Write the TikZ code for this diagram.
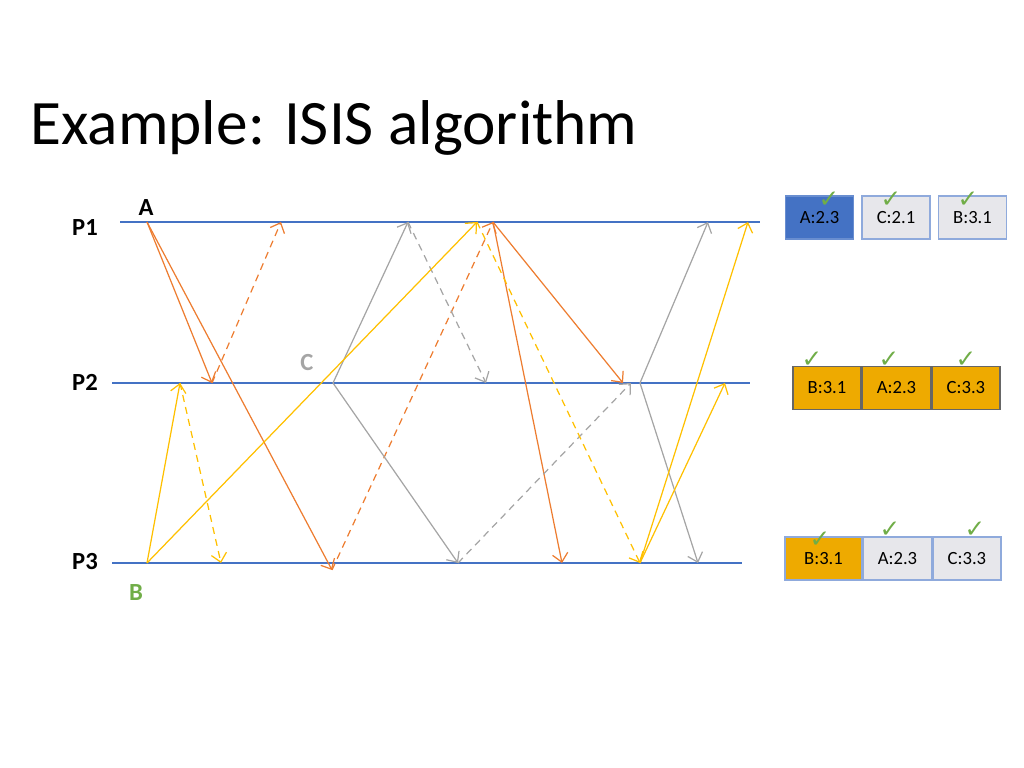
\documentclass[tikz,border=0pt]{standalone}
\usepackage{fontspec}
\setmainfont{Carlito}
\newfontfamily\symfont{DejaVu Sans}
\usetikzlibrary{positioning,calc,arrows.meta}
\definecolor{lineblue}{HTML}{4472C4}
\definecolor{msgorange}{HTML}{ED7D31}
\definecolor{msggray}{HTML}{A5A5A5}
\definecolor{msgyellow}{HTML}{FFC000}
\definecolor{okgreen}{HTML}{70AD47}
\definecolor{boxorange}{HTML}{EEAA00}
\definecolor{boxgray}{HTML}{E7E7EB}
\definecolor{boxedge}{HTML}{8FAADC}
\tikzset{
	proc/.style={lineblue, line width=0.6pt},
	msg/.style={line width=0.35pt, -{Straight Barb[length=2.4pt,width=4.4pt]}},
	ack/.style={msg, dashed, dash pattern=on 2pt off 1.5pt},
	qbox/.style={draw, minimum width=0.68cm, minimum height=0.43cm, inner sep=0pt, font=\fontsize{5.3}{6}\selectfont},
	tick/.style={okgreen, inner sep=0pt, font=\symfont\fontsize{7}{7}\selectfont},
	plabel/.style={font=\bfseries\fontsize{7}{8}\selectfont}
}
\begin{document}
\begin{tikzpicture}[x=0.01cm, y=-0.01cm]
	\useasboundingbox (0,0) rectangle (1024,768);
	\node[anchor=base west, inner sep=0pt, font=\fontsize{18}{20}\selectfont] (title) at (30,145) {Example: ISIS algorithm};

	% process lines
	\coordinate (p1s) at (120,222); \coordinate (p1e) at (760,222);
	\coordinate (p2s) at (112,383); \coordinate (p2e) at (750,383);
	\coordinate (p3s) at (112,563); \coordinate (p3e) at (742,563);
	\draw[proc] (p1s) -- (p1e);
	\draw[proc] (p2s) -- (p2e);
	\draw[proc] (p3s) -- (p3e);
	\node[plabel] (lp1) at (85,228) {P1};
	\node[plabel] (lp2) at (85,382) {P2};
	\node[plabel] (lp3) at (85,562) {P3};
	\node[plabel] (la) at (146,208) {A};
	\node[plabel, msggray] (lc) at (307,363) {C};
	\node[plabel, okgreen] (lb) at (136,593) {B};

	% events
	\coordinate (a0) at (147,222);
	\coordinate (a1) at (212,383);
	\coordinate (a2) at (332,570);
	\coordinate (a3) at (281,222);
	\coordinate (a4) at (493,222);
	\coordinate (a5) at (562,563);
	\coordinate (a6) at (623,383);
	\coordinate (c0) at (333,383);
	\coordinate (c1) at (408,222);
	\coordinate (c2) at (458,563);
	\coordinate (c3) at (486,383);
	\coordinate (c4) at (631,383);
	\coordinate (c5) at (640,383);
	\coordinate (c6) at (708,222);
	\coordinate (c7) at (698,563);
	\coordinate (b0) at (147,563);
	\coordinate (b1) at (180,383);
	\coordinate (b2) at (477,222);
	\coordinate (b3) at (221,563);
	\coordinate (b4) at (640,563);
	\coordinate (b5) at (748,222);
	\coordinate (b6) at (725,383);

	% messages
	\draw[msg, msgorange] (a0) -- (a1);
	\draw[msg, msgorange] (a0) -- (a2);
	\draw[ack, msgorange] (a1) -- (a3);
	\draw[ack, msgorange] (a2) -- (a4);
	\draw[msg, msgorange] (a4) -- (a5);
	\draw[msg, msgorange] (a4) -- (a6);
	\draw[msg, msggray] (c0) -- (c1);
	\draw[msg, msggray] (c0) -- (c2);
	\draw[ack, msggray] (c1) -- (c3);
	\draw[ack, msggray] (c2) -- (c4);
	\draw[msg, msggray] (c5) -- (c6);
	\draw[msg, msggray] (c5) -- (c7);
	\draw[msg, msgyellow] (b0) -- (b1);
	\draw[msg, msgyellow] (b0) -- (b2);
	\draw[ack, msgyellow] (b1) -- (b3);
	\draw[ack, msgyellow] (b2) -- (b4);
	\draw[msg, msgyellow] (b4) -- (b5);
	\draw[msg, msgyellow] (b4) -- (b6);

	% queues
	\node[qbox, fill=lineblue, draw=lineblue!80!white] (q1a) at (819.5,217.5) {A:2.3};
	\node[qbox, fill=boxgray, draw=boxedge] (q1c) at (896,217.5) {C:2.1};
	\node[qbox, fill=boxgray, draw=boxedge] (q1b) at (972.5,217.5) {B:3.1};
	\node[qbox, fill=boxorange, draw=gray!80!black] (q2b) at (827,388) {B:3.1};
	\node[qbox, fill=boxorange, draw=gray!80!black, right=0pt of q2b] (q2a) {A:2.3};
	\node[qbox, fill=boxorange, draw=gray!80!black, right=0pt of q2a] (q2c) {C:3.3};
	\node[qbox, fill=boxorange, draw=boxedge, minimum width=0.77cm] (q3b) at (823.5,558.5) {B:3.1};
	\node[qbox, fill=boxgray, draw=boxedge, right=0pt of q3b] (q3a) {A:2.3};
	\node[qbox, fill=boxgray, draw=boxedge, right=0pt of q3a] (q3c) {C:3.3};

	% ticks
	\node[tick, anchor=south] (t1a) at (829,208) {✓};
	\node[tick, anchor=south] (t1c) at (891,208) {✓};
	\node[tick, anchor=south] (t1b) at (968,208) {✓};
	\node[tick, anchor=south] (t2b) at (812,368) {✓};
	\node[tick, anchor=south] (t2a) at (889,368) {✓};
	\node[tick, anchor=south] (t2c) at (966,368) {✓};
	\node[tick, anchor=south] (t3b) at (820,548) {✓};
	\node[tick, anchor=south] (t3a) at (890,538) {✓};
	\node[tick, anchor=south] (t3c) at (975,538) {✓};
\end{tikzpicture}
\end{document}
